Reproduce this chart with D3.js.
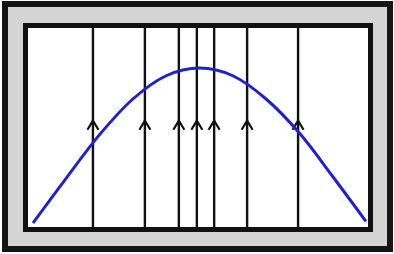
<!DOCTYPE html>
<html>
<head>
<meta charset="utf-8">
<script src="https://cdn.jsdelivr.net/npm/d3@7"></script>
<style>
  html, body { margin: 0; padding: 0; background: #fff; }
  svg { display: block; }
</style>
</head>
<body>
<svg id="chart"></svg>
<script>
'use strict';

// curve samples (x position, height)
var curveX = [0, 1, 2, 3, 4, 5, 6, 7, 8, 9, 10];
var curveY = [0, 0.29, 0.57, 0.8, 0.95, 1, 0.95, 0.8, 0.58, 0.3, 0.01];

// vertical rays with upward arrows
var rayX = [1.8, 3.36, 4.38, 4.92, 5.44, 6.43, 7.96];
var arrowLevel = 0.66;

var width = 394;
var height = 254;

var svgEl = d3.select('#chart')
  .attr('width', width)
  .attr('height', height);

// outer grey frame
svgEl.append('rect')
  .attr('x', 5)
  .attr('y', 4)
  .attr('width', 385)
  .attr('height', 245)
  .style('fill', '#d4d4d4')
  .style('stroke', '#151515')
  .style('stroke-width', 6);

// inner white box
var box = {left: 25.5, top: 25.5, right: 370.5, bottom: 229.5};

svgEl.append('rect')
  .attr('x', box.left)
  .attr('y', box.top)
  .attr('width', box.right - box.left)
  .attr('height', box.bottom - box.top)
  .style('fill', '#fff')
  .style('stroke', '#111')
  .style('stroke-width', 5);

var x = d3.scaleLinear().domain([0, 10]).range([33, 366]);
var y = d3.scaleLinear().domain([0, 1]).range([223, 68]);

var canvasEl = svgEl.append('g');

// rays
canvasEl.selectAll('line.ray')
  .data(rayX)
  .enter().append('line')
  .attr('class', 'ray')
  .attr('x1', function(d) { return x(d); })
  .attr('x2', function(d) { return x(d); })
  .attr('y1', box.top + 2)
  .attr('y2', box.bottom - 2)
  .style('stroke', '#111')
  .style('stroke-width', 2.4);

// arrow heads
canvasEl.selectAll('path.arrow')
  .data(rayX)
  .enter().append('path')
  .attr('class', 'arrow')
  .attr('d', function(d)
  {
    var cx = x(d);
    var cy = y(arrowLevel);

    return 'M' + (cx - 5.5) + ',' + (cy + 9) + 'L' + cx + ',' + cy + 'L' + (cx + 5.5) + ',' + (cy + 9);
  })
  .style('fill', 'none')
  .style('stroke', '#111')
  .style('stroke-width', 2.2);

// blue curve
var line = d3.line()
  .x(function(d, i) { return x(curveX[i]); })
  .y(function(d) { return y(d); })
  .curve(d3.curveMonotoneX);

canvasEl.append('path')
  .datum(curveY)
  .attr('d', line)
  .style('fill', 'none')
  .style('stroke', '#2222c4')
  .style('stroke-width', 3);
</script>
</body>
</html>
